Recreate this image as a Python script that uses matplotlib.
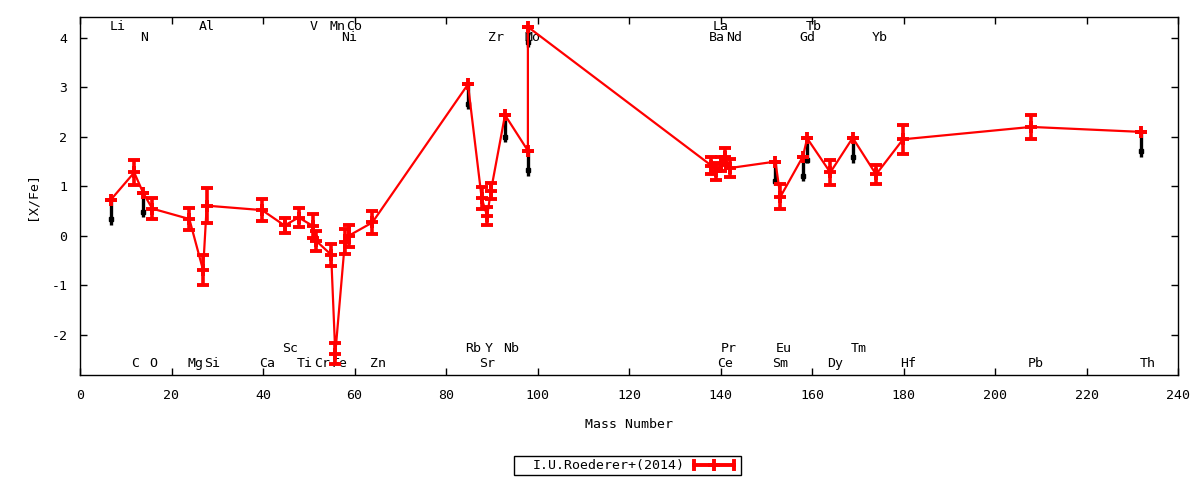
import matplotlib
matplotlib.use("Agg")
import matplotlib.pyplot as plt
from matplotlib.lines import Line2D
from matplotlib.patches import Rectangle

plt.rcParams['font.family'] = ['DejaVu Sans Mono']
plt.rcParams['font.size'] = 9.5
plt.rcParams['axes.unicode_minus'] = False

# [X/Fe] abundances vs mass number
mass = [6.75, 11.85, 13.8, 15.8, 23.9, 26.9, 27.7, 39.8, 44.7, 47.8,
        50.9, 51.6, 54.9, 55.8, 57.9, 58.7, 63.9,
        84.8, 87.8, 89.0, 89.8, 92.9, 97.9, 97.9,
        138.0, 139.1, 140.0, 140.9, 142.1,
        152.0, 153.1, 158.0, 158.95, 164.0, 168.9, 174.0, 179.9,
        207.9, 231.9]
xfe = [0.73, 1.28, 0.87, 0.55, 0.34, -0.69, 0.61, 0.52, 0.21, 0.37,
       0.20, -0.10, -0.38, -2.38, -0.12, 0.00, 0.27,
       3.06, 0.76, 0.40, 0.90, 2.44, 1.72, 4.22,
       1.42, 1.30, 1.45, 1.60, 1.37,
       1.50, 0.79, 1.60, 1.97, 1.28, 1.98, 1.24, 1.95,
       2.20, 2.10]
err = [0.0, 0.25, 0.0, 0.21, 0.22, 0.30, 0.35, 0.22, 0.16, 0.20,
       0.25, 0.20, 0.22, 0.21, 0.25, 0.22, 0.23,
       0.0, 0.22, 0.18, 0.16, 0.0, 0.0, 0.0,
       0.18, 0.17, 0.15, 0.17, 0.19,
       0.0, 0.25, 0.0, 0.0, 0.26, 0.0, 0.19, 0.29,
       0.245, 0.0]

# black downward segments (upper-limit style) on some points
lim_mass = [6.75, 13.8, 84.8, 92.9, 97.9, 97.9, 152.0, 158.0, 158.95, 168.9, 231.9]
lim_top = [0.73, 0.87, 3.06, 2.44, 1.72, 4.22, 1.50, 1.60, 1.97, 1.98, 2.10]
lim_end = [0.22, 0.38, 2.57, 1.90, 1.20, 3.82, 1.03, 1.10, 1.47, 1.48, 1.59]
lim_dot = [0.34, 0.49, 2.67, 2.00, 1.33, 3.92, 1.11, 1.21, 1.53, 1.60, 1.71]

# element labels: (name, mass position), one list per row
top_hi = [("Li", 8.15), ("Al", 27.8), ("V", 50.97), ("Mn", 56.2), ("Co", 59.9),
          ("La", 140.1), ("Tb", 160.3)]
top_lo = [("N", 14.03), ("Ni", 58.8), ("Zr", 91.0), ("Mo", 98.8), ("Ba", 139.1),
          ("Nd", 143.0), ("Gd", 158.9), ("Yb", 174.9)]
bot_hi = [("Sc", 45.9), ("Rb", 85.9), ("Y", 89.4), ("Nb", 94.2), ("Pr", 141.9),
          ("Eu", 153.9), ("Tm", 170.3)]
bot_lo = [("C", 12.07), ("O", 16.0), ("Mg", 25.2), ("Si", 28.9), ("Ca", 40.9),
          ("Ti", 49.2), ("Cr", 52.9), ("Fe", 56.7), ("Zn", 65.2), ("Sr", 89.0),
          ("Ce", 141.0), ("Sm", 153.0), ("Dy", 165.1), ("Hf", 181.0),
          ("Pb", 209.0), ("Th", 233.3)]

fig = plt.figure(figsize=(12, 4.8), dpi=100)
ax = fig.add_axes([80/1200, 1-375/480, 1098/1200, 358/480])

ax.vlines(lim_mass, lim_end, lim_top, color='black', lw=2.4, zorder=2)
ax.plot(lim_mass, lim_dot, 's', color='black', ms=3.2, zorder=2)

ax.errorbar(mass, xfe, yerr=err, color='#ff0000', lw=1.6, elinewidth=2.6,
            capsize=4.3, capthick=2.8, marker='+', ms=8.5, mew=2.8, zorder=3)

for rows, yv in [(top_hi, 4.22), (top_lo, 4.0), (bot_hi, -2.28), (bot_lo, -2.57)]:
    for name, xm in rows:
        ax.text(xm, yv, name, ha='center', va='center', zorder=1)

ax.set_xlim(0, 240)
ax.set_ylim(-2.81, 4.42)
ax.set_xticks(range(0, 241, 20))
ax.set_yticks(range(-2, 5))
ax.tick_params(direction='in', top=True, right=True, length=5, width=1)
ax.tick_params(axis='x', pad=10)
ax.tick_params(axis='y', pad=9)
for s in ax.spines.values():
    s.set_linewidth(1.0)

fig.text(629/1200, 1-425/480, "Mass Number", ha='center', va='center')
fig.text(32/1200, 1-196/480, "[X/Fe]", ha='center', va='center', rotation=90)

# gnuplot-style key below the plot
fig.add_artist(Rectangle((514/1200, 1-475/480), 227/1200, 19/480, transform=fig.transFigure,
                         fill=False, lw=1.0, edgecolor='black'))
fig.text(685/1200, 1-465/480, "I.U.Roederer+(2014)", ha='right', va='center')
ky = 1-465/480
fig.add_artist(Line2D([694/1200, 734/1200], [ky, ky], transform=fig.transFigure,
                      color='#ff0000', lw=2.8))
for kx in [694/1200, 734/1200]:
    fig.add_artist(Line2D([kx, kx], [ky-4/480, ky+4/480], transform=fig.transFigure,
                          color='#ff0000', lw=2.8))
fig.add_artist(Line2D([714/1200], [ky], transform=fig.transFigure, color='#ff0000',
                      marker='+', ms=8.5, mew=2.8))

fig.savefig("out.png", dpi=100)
